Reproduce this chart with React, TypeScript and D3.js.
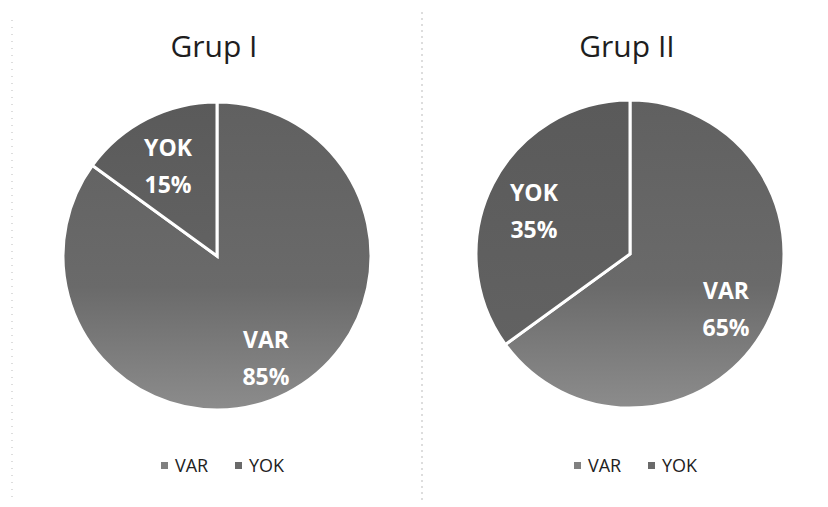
import React from "react";
import * as d3 from "d3";

const categories = ["VAR", "YOK"];
const groupTitles = ["Grup I", "Grup II"];
const grup1Values = [85, 15];
const grup2Values = [65, 35];

const W = 828;
const H = 507;

type PieProps = { cx: number; cy: number; r: number; title: string; values: number[]; idx: number; legendX: number };

function Pie({ cx, cy, r, title, values, idx, legendX }: PieProps) {
  const data = categories.map((c, i) => ({ cat: c, value: values[i] }));
  const pie = d3.pie<{ cat: string; value: number }>().sort(null).value((d) => d.value);
  const arcs = pie(data);
  const arc = d3.arc<d3.PieArcDatum<{ cat: string; value: number }>>().innerRadius(0).outerRadius(r);
  const labelArc = d3
    .arc<d3.PieArcDatum<{ cat: string; value: number }>>()
    .innerRadius(r * 0.7)
    .outerRadius(r * 0.7);
  const fills = [`url(#varGrad${idx})`, `url(#yokGrad${idx})`];
  return (
    <g>
      <defs>
        <linearGradient id={`varGrad${idx}`} x1="0" y1="0" x2="0" y2="1" gradientUnits="objectBoundingBox">
          <stop offset="0" stopColor="#606060" />
          <stop offset="0.6" stopColor="#6a6a6a" />
          <stop offset="1" stopColor="#8c8c8c" />
        </linearGradient>
        <linearGradient id={`yokGrad${idx}`} x1="0" y1="0" x2="0" y2="1">
          <stop offset="0" stopColor="#5a5a5a" />
          <stop offset="1" stopColor="#626262" />
        </linearGradient>
      </defs>
      <text
        x={cx - 3}
        y={57}
        textAnchor="middle"
        fontFamily="'Open Sans', sans-serif"
        fontSize={30}
        fill="#1e1e1e"
      >
        {title}
      </text>
      <g transform={`translate(${cx},${cy})`}>
        {arcs.map((a, i) => (
          <path key={i} d={arc(a) || ""} fill={fills[i]} stroke="#ffffff" strokeWidth={3} strokeLinejoin="miter" />
        ))}
        {arcs.map((a, i) => {
          const [lx, ly] = labelArc.centroid(a);
          return (
            <text
              key={"l" + i}
              x={lx}
              y={ly}
              textAnchor="middle"
              fontFamily="'Open Sans', sans-serif"
              fontWeight={700}
              fontSize={23}
              fill="#ffffff"
            >
              <tspan x={lx} dy={-4}>{a.data.cat}</tspan>
              <tspan x={lx} dy={37}>{`${a.data.value}%`}</tspan>
            </text>
          );
        })}
      </g>
      {categories.map((c, i) => (
        <g key={"lg" + i} transform={`translate(${legendX + i * 74},472)`}>
          <rect x={0} y={-10} width={7} height={7} fill={i === 0 ? "#808080" : "#6a6a6a"} />
          <text x={14} y={0} fontFamily="'Open Sans', sans-serif" fontSize={18} fill="#222">
            {c}
          </text>
        </g>
      ))}
    </g>
  );
}

export default function App() {
  return (
    <svg
      width={W}
      height={H}
      viewBox={`0 0 ${W} ${H}`}
      style={{ position: "absolute", left: 0, top: 0, background: "#fff" }}
    >
      <rect width={W} height={H} fill="#ffffff" />
      <line x1={12} y1={20} x2={12} y2={500} stroke="#bbb" strokeWidth={1} strokeDasharray="1 6" />
      <line x1={422} y1={12} x2={422} y2={500} stroke="#bbb" strokeWidth={1} strokeDasharray="2 4" />
      <Pie cx={217} cy={256} r={154} title={groupTitles[0]} values={grup1Values} idx={0} legendX={161} />
      <Pie cx={630} cy={254} r={154} title={groupTitles[1]} values={grup2Values} idx={1} legendX={574} />
    </svg>
  );
}
